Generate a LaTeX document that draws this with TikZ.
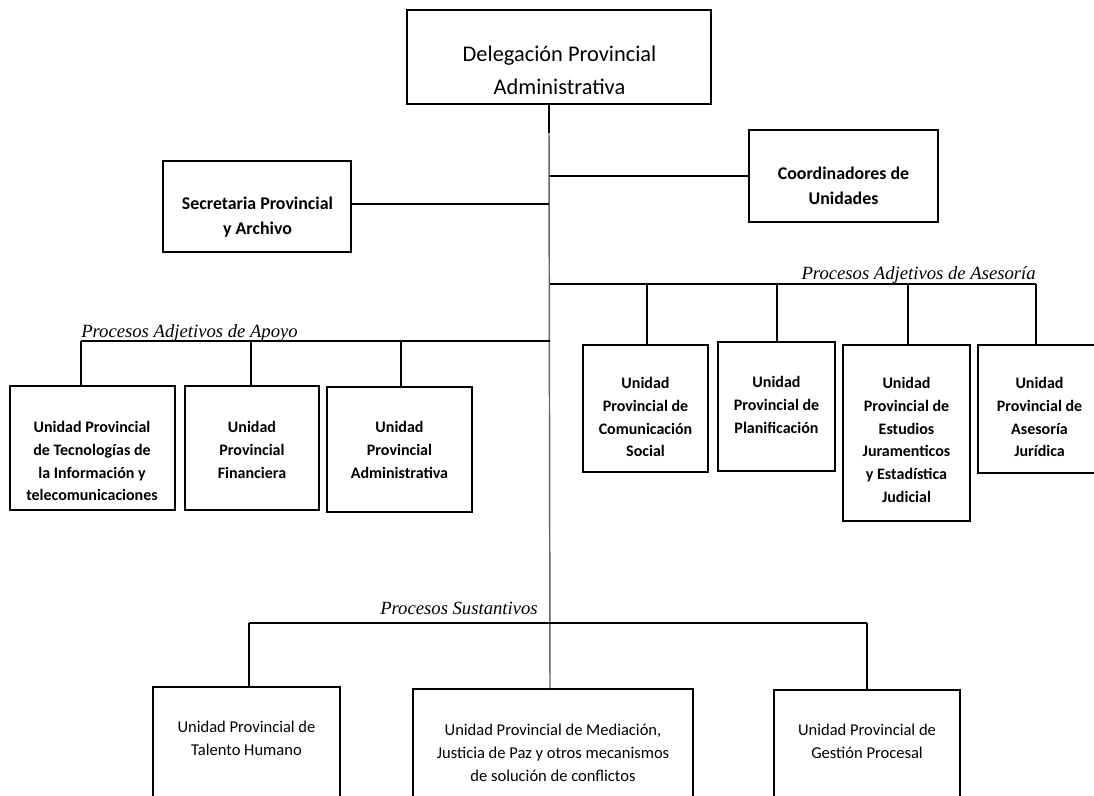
\documentclass[tikz,border=0pt]{standalone}
\usepackage{fontspec}
\newfontfamily\calfont{Carlito}
\newfontfamily\tmsfont{Liberation Serif}
\usetikzlibrary{fit}
\begin{document}
\begin{tikzpicture}[x=0.75pt,y=-0.75pt,
  box/.style={draw, line width=1.2pt, inner sep=0pt},
  txt/.style={align=center, inner sep=0pt, anchor=north,
    font=\calfont\bfseries\fontsize{12}{17.1}\selectfont},
  toptxt/.style={align=center, inner sep=0pt, anchor=north,
    font=\calfont\fontsize{16.8}{24.6}\selectfont},
  midtxt/.style={align=center, inner sep=0pt, anchor=north,
    font=\calfont\bfseries\fontsize{13.4}{18.6}\selectfont},
  bottxt/.style={align=center, inner sep=0pt, anchor=north,
    font=\calfont\fontsize{12.4}{17.1}\selectfont},
  lbl/.style={inner sep=0pt, font=\tmsfont\itshape\fontsize{14}{16}\selectfont},
  conn/.style={line width=1.1pt},
  trunk/.style={line width=1.1pt, black!60}]
\useasboundingbox (0,0) rectangle (1094,795);
\clip (0,0) rectangle (1094,795);

% boxes
\node[box, fit={(407,10) (711,104)}] (top) {};
\node[box, fit={(163,161) (351,252)}] (sec) {};
\node[box, fit={(749,130) (938,222)}] (coo) {};
\node[box, fit={(10,386) (175,510)}] (tec) {};
\node[box, fit={(185,386) (319,510)}] (fin) {};
\node[box, fit={(327,387) (472,512)}] (adm) {};
\node[box, fit={(583,345) (708,472)}] (com) {};
\node[box, fit={(718,342) (835,471)}] (pla) {};
\node[box, fit={(843,345) (970,521)}] (est) {};
\node[box, fit={(978,345) (1101,473)}] (jur) {};
\node[box, fit={(153,687) (340,830)}] (tal) {};
\node[box, fit={(413,689) (693,830)}] (med) {};
\node[box, fit={(774,690) (960,830)}] (ges) {};

% texts
\node[toptxt] (topT) at (559.5,45.5) {Delegación Provincial\\Administrativa};
\node[midtxt] (secT) at (257.5,196.5) {Secretaria Provincial\\y Archivo};
\node[midtxt] (cooT) at (843.5,166.5) {Coordinadores de\\Unidades};
\node[txt] (tecT) at (92,421) {Unidad Provincial\\de Tecnologías de\\la Información y\\telecomunicaciones};
\node[txt] (finT) at (252,421) {Unidad\\Provincial\\Financiera};
\node[txt] (admT) at (399.5,421) {Unidad\\Provincial\\Administrativa};
\node[txt] (comT) at (645.5,377) {Unidad\\Provincial de\\Comunicación\\Social};
\node[txt] (plaT) at (776.5,376) {Unidad\\Provincial de\\Planificación};
\node[txt] (estT) at (906.5,377) {Unidad\\Provincial de\\Estudios\\Juramenticos\\y Estadística\\Judicial};
\node[txt] (jurT) at (1039.5,377) {Unidad\\Provincial de\\Asesoría\\Jurídica};
\node[bottxt] (talT) at (246.5,721) {Unidad Provincial de\\Talento Humano};
\node[bottxt] (medT) at (553,724) {Unidad Provincial de Mediación,\\Justicia de Paz y otros mecanismos\\de solución de conflictos};
\node[bottxt] (gesT) at (867,724) {Unidad Provincial de\\Gestión Procesal};

% junction coordinates
\coordinate (tBend) at (549,133);
\coordinate (jSec) at (549,204);
\coordinate (jCoo) at (550,176);
\coordinate (jAse) at (550,284);
\coordinate (jApo) at (550,341);
\coordinate (jSus) at (550,623);
\coordinate (dCom) at (647,284);
\coordinate (dPla) at (777,284);
\coordinate (dEst) at (908,284);
\coordinate (dJur) at (1036,284);
\coordinate (dTec) at (81,341);
\coordinate (dFin) at (251,341);
\coordinate (dAdm) at (401,341);
\coordinate (dTal) at (249,623);
\coordinate (dGes) at (867,623);

% trunk
\draw[conn] (top.south -| tBend) -- (tBend);
\draw[trunk] (tBend) -- (med.north -| jSus);
% side boxes
\draw[conn] (sec.east |- jSec) -- (jSec);
\draw[conn] (jCoo) -- (coo.west |- jCoo);
% asesoria
\draw[conn] (jAse) -- (dJur);
\draw[conn] (dCom) -- (dCom |- com.north);
\draw[conn] (dPla) -- (dPla |- pla.north);
\draw[conn] (dEst) -- (dEst |- est.north);
\draw[conn] (dJur) -- (dJur |- jur.north);
% apoyo
\draw[conn] (jApo) -- (dTec);
\draw[conn] (dTec) -- (dTec |- tec.north);
\draw[conn] (dFin) -- (dFin |- fin.north);
\draw[conn] (dAdm) -- (dAdm |- adm.north);
% sustantivos
\draw[conn] (dTal) -- (dGes);
\draw[conn] (dTal) -- (dTal |- tal.north);
\draw[conn] (dGes) -- (dGes |- ges.north);

% labels
\node[lbl, anchor=base east] (lAse) at (1036,279.5) {Procesos Adjetivos de Asesoría};
\node[lbl, anchor=base west] (lApo) at (81,337) {Procesos Adjetivos de Apoyo};
\node[lbl, anchor=base west] (lSus) at (380,614) {Procesos Sustantivos};
\end{tikzpicture}
\end{document}
